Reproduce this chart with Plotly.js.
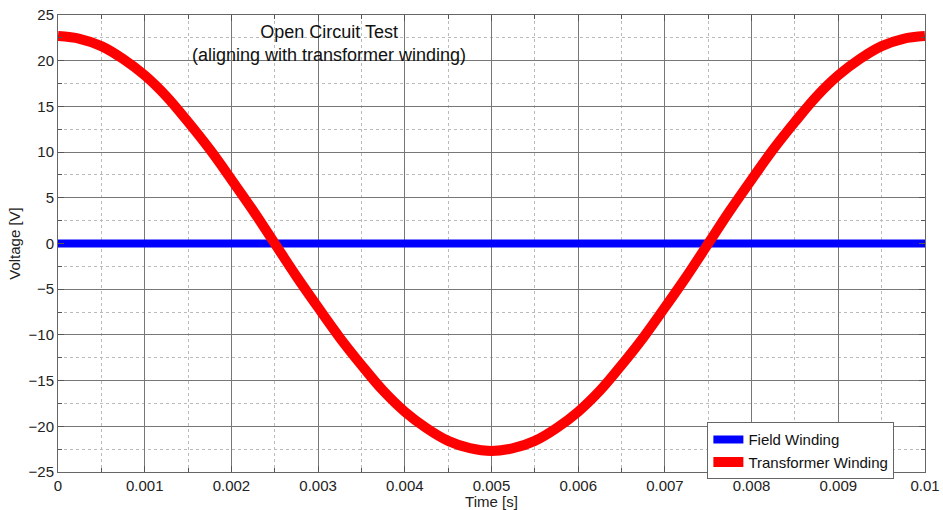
<!DOCTYPE html>
<html><head><meta charset="utf-8">
<script src="https://cdn.plot.ly/plotly-3.0.1.min.js"></script>
<style>html,body{margin:0;padding:0;background:#fff;}#chart{width:943px;height:510px;}</style>
</head><body><div id="chart"></div>
<script>
const time = [0,0.00025,0.0005,0.00075,0.001,0.00125,0.0015,0.00175,0.002,0.00225,0.0025,0.00275,0.003,0.00325,0.0035,0.00375,0.004,0.00425,0.0045,0.00475,0.005,0.00525,0.0055,0.00575,0.006,0.00625,0.0065,0.00675,0.007,0.00725,0.0075,0.00775,0.008,0.00825,0.0085,0.00875,0.009,0.00925,0.0095,0.00975,0.01];
const transformerWinding = [22.7,22.4,21.6,20.2,18.4,16.1,13.3,10.3,7.0,3.6,0.0,-3.6,-7.0,-10.3,-13.3,-16.1,-18.4,-20.2,-21.6,-22.4,-22.7,-22.4,-21.6,-20.2,-18.4,-16.1,-13.3,-10.3,-7.0,-3.6,0.0,3.6,7.0,10.3,13.3,16.1,18.4,20.2,21.6,22.4,22.7];
const fieldTime = [0,0.01];
const fieldWinding = [0,0];
const xTicks = [0,0.001,0.002,0.003,0.004,0.005,0.006,0.007,0.008,0.009,0.01];
const xTickText = ['0','0.001','0.002','0.003','0.004','0.005','0.006','0.007','0.008','0.009','0.01'];
const yTicks = [-25,-20,-15,-10,-5,0,5,10,15,20,25];

const fam = 'Liberation Sans, Arial, sans-serif';
const font = {family:fam, size:15, color:'#222'};
const traces = [
  {x: fieldTime, y: fieldWinding, mode:'lines', name:'Field Winding', line:{color:'#0000ff', width:8}},
  {x: time, y: transformerWinding, mode:'lines', name:'Transformer Winding', line:{color:'#ff0000', width:10, shape:'spline'}}
];
const axisCommon = {
  showline:true, linecolor:'#666', linewidth:1, mirror:'ticks',
  ticks:'inside', ticklen:6, tickcolor:'#555',
  showgrid:true, gridcolor:'#777', gridwidth:1,
  zeroline:false, tickfont:font
};
const layout = {
  width:943, height:510,
  margin:{l:58, r:18, t:15, b:38},
  paper_bgcolor:'#fff', plot_bgcolor:'#fff',
  font: font,
  showlegend:true,
  xaxis: Object.assign({}, axisCommon, {
    range:[0,0.01], tickvals:xTicks, ticktext:xTickText,
    title:{text:'Time [s]', font:font, standoff:0},
    minor:{dtick:0.0005, tick0:0, showgrid:true, gridcolor:'#bbb', griddash:'dot', gridwidth:1, ticks:'inside', ticklen:4, tickcolor:'#555'}
  }),
  yaxis: Object.assign({}, axisCommon, {
    range:[-25,25], tickvals:yTicks,
    title:{text:'Voltage [V]', font:font, standoff:4},
    minor:{dtick:2.5, tick0:0, showgrid:true, gridcolor:'#bbb', griddash:'dot', gridwidth:1, ticks:'inside', ticklen:4, tickcolor:'#555'}
  }),
  legend:{x:0.749, y:0.109, xanchor:'left', yanchor:'top', bgcolor:'#fff', bordercolor:'#666', borderwidth:1,
    font:{family:fam, size:15, color:'#111'}, itemwidth:30, tracegroupgap:0},
  annotations:[
    {text:'Open Circuit Test<br>(aligning with transformer winding)', xref:'paper', yref:'paper', x:0.313, y:0.99, xanchor:'center', yanchor:'top', showarrow:false,
     font:{family:fam, size:18, color:'#111'}, align:'center', bgcolor:'rgba(0,0,0,0)'}
  ]
};
Plotly.newPlot('chart', traces, layout, {displayModeBar:false, staticPlot:true});
</script>
</body></html>
